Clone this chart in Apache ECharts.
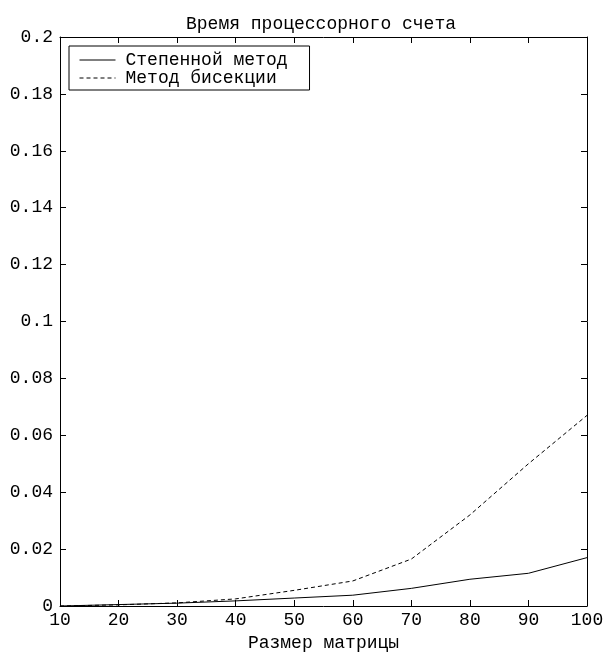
<!DOCTYPE html>
<html>
<head>
<meta charset="utf-8">
<script src="https://cdn.jsdelivr.net/npm/echarts@6/dist/echarts.min.js"></script>
<style>
  html, body { margin: 0; padding: 0; background: #fff; }
  #chart { width: 603px; height: 652px; }
</style>
</head>
<body>
<div id="chart"></div>
<script>
// Matrix sizes and CPU times for the two eigenvalue methods
const matrixSizes = [10, 20, 30, 40, 50, 60, 70, 80, 90, 100];
const powerMethod = [0, 0.0005, 0.001, 0.0018, 0.0028, 0.0038, 0.0062, 0.0094, 0.0115, 0.017];
const bisectionMethod = [0, 0.0004, 0.0011, 0.0025, 0.0055, 0.0088, 0.0165, 0.032, 0.050, 0.067];
const seriesNames = ['Степенной метод', 'Метод бисекции'];
const titleText = 'Время процессорного счета';
const xAxisTitle = 'Размер матрицы';

const FONT = '"Liberation Mono", "DejaVu Sans Mono", monospace';
const FS = 18;

const chart = echarts.init(document.getElementById('chart'), null, { renderer: 'canvas' });

const pairs = (xs, ys) => xs.map((x, i) => [x, ys[i]]);

const baseX = {
  type: 'value', min: 10, max: 100, interval: 10,
  axisLine: { show: true, onZero: false, lineStyle: { color: '#000', width: 1 } },
  axisTick: { show: true, inside: true, length: 6, lineStyle: { color: '#000' } },
  splitLine: { show: false }
};
const baseY = {
  type: 'value', min: 0, max: 0.2, interval: 0.02,
  axisLine: { show: true, onZero: false, lineStyle: { color: '#000', width: 1 } },
  axisTick: { show: true, inside: true, length: 6, lineStyle: { color: '#000' } },
  splitLine: { show: false }
};

chart.setOption({
  animation: false,
  backgroundColor: '#fff',
  textStyle: { fontFamily: FONT, color: '#000' },
  title: {
    text: titleText,
    left: 316, top: 10, textAlign: 'center',
    textStyle: { fontFamily: FONT, fontSize: FS, fontWeight: 'normal', color: '#000' }
  },
  grid: { left: 60, right: 16, top: 37, bottom: 46, containLabel: false, outerBoundsMode: 'none' },
  legend: {
    data: seriesNames,
    orient: 'vertical',
    left: 69, top: 46,
    padding: [5, 22, 3, 10],
    itemGap: 0,
    itemWidth: 36, itemHeight: 16,
    borderColor: '#000', borderWidth: 1,
    backgroundColor: '#fff',
    itemStyle: { opacity: 0 },
    lineStyle: { width: 1 },
    textStyle: { fontFamily: FONT, fontSize: FS, lineHeight: 16, color: '#000', padding: [0, 0, 0, 5] }
  },
  xAxis: [
    Object.assign({}, baseX, {
      position: 'bottom',
      name: xAxisTitle, nameLocation: 'middle', nameGap: 28,
      nameTextStyle: { fontFamily: FONT, fontSize: FS, color: '#000' },
      axisLabel: { show: true, color: '#000', fontFamily: FONT, fontSize: FS, margin: 5 }
    }),
    Object.assign({}, baseX, { position: 'top', axisLabel: { show: false } })
  ],
  yAxis: [
    Object.assign({}, baseY, {
      position: 'left',
      axisLabel: { show: true, color: '#000', fontFamily: FONT, fontSize: FS, margin: 7 }
    }),
    Object.assign({}, baseY, { position: 'right', axisLabel: { show: false } })
  ],
  series: [
    {
      name: seriesNames[0], type: 'line', symbol: 'none',
      data: pairs(matrixSizes, powerMethod),
      lineStyle: { color: '#000', width: 1, type: 'solid' },
      itemStyle: { color: '#000' }
    },
    {
      name: seriesNames[1], type: 'line', symbol: 'none',
      data: pairs(matrixSizes, bisectionMethod),
      lineStyle: { color: '#000', width: 1, type: [4, 3] },
      itemStyle: { color: '#000' }
    }
  ]
});
</script>
</body>
</html>
